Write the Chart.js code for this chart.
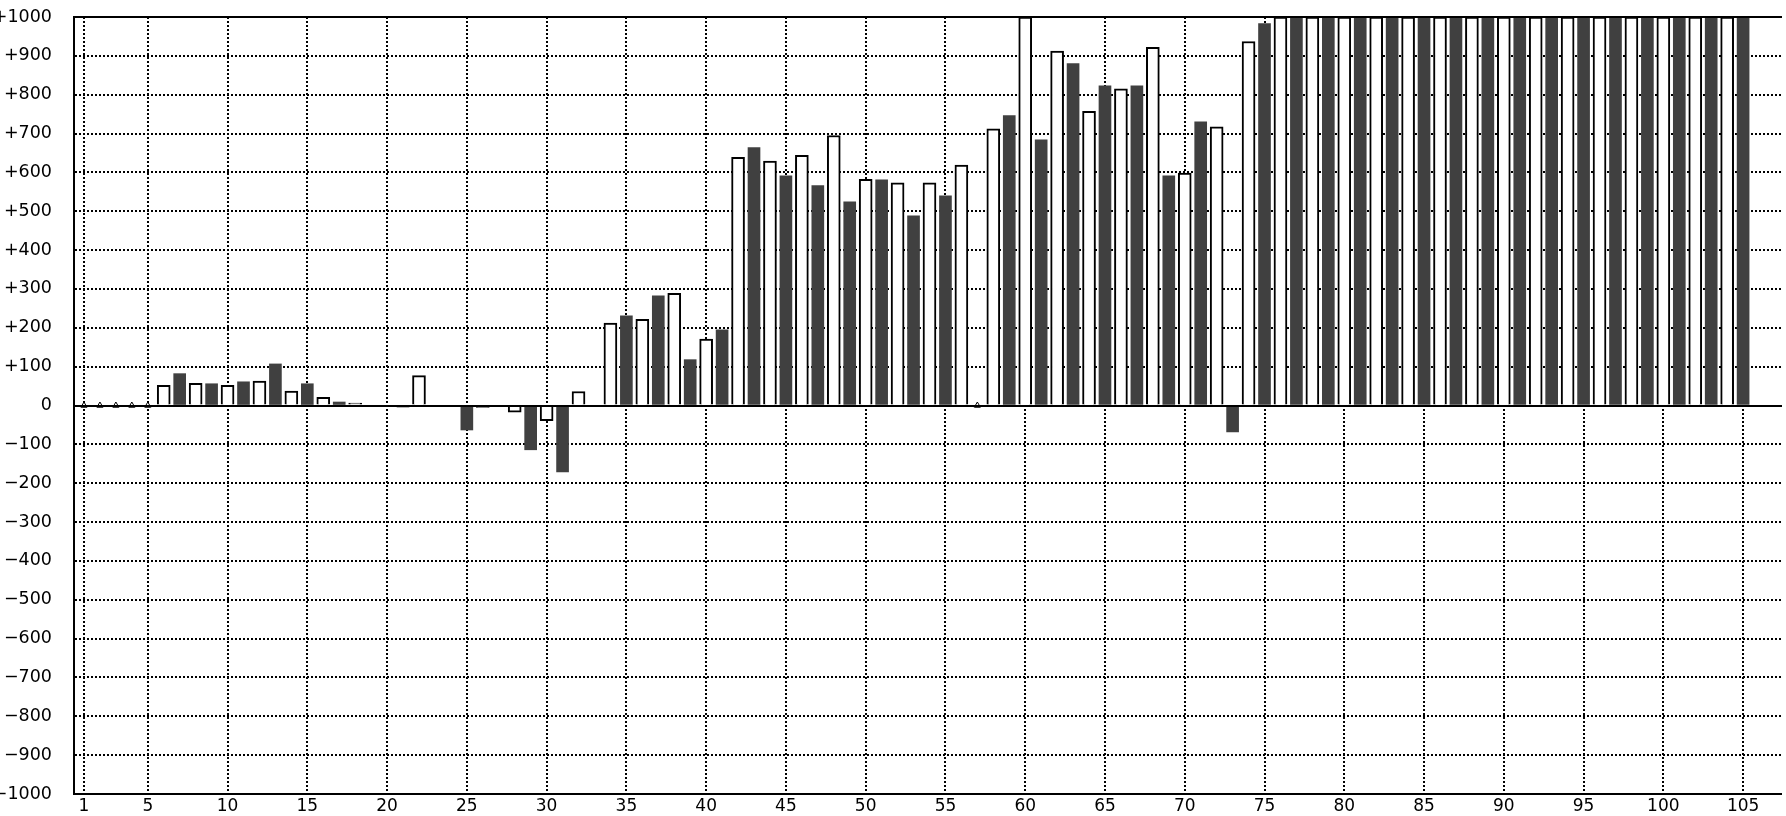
<!DOCTYPE html>
<html>
<head>
<meta charset="utf-8">
<script src="https://cdn.jsdelivr.net/npm/chart.js@4.4.1/dist/chart.umd.min.js"></script>
<style>
html,body{margin:0;padding:0;background:#fff;}
canvas{display:block;}
</style>
</head>
<body>
<canvas id="c" width="1786" height="816"></canvas>
<script>
const categories = [
  1,2,3,4,5,6,7,8,9,10,11,12,13,14,15,16,17,18,19,20,
  21,22,23,24,25,26,27,28,29,30,31,32,33,34,35,36,37,38,39,40,
  41,42,43,44,45,46,47,48,49,50,51,52,53,54,55,56,57,58,59,60,
  61,62,63,64,65,66,67,68,69,70,71,72,73,74,75,76,77,78,79,80,
  81,82,83,84,85,86,87,88,89,90,91,92,93,94,95,96,97,98,99,100,
  101,102,103,104,105
];

const values = [
  null,null,null,null,null,52,82,57,56,52,61,63,107,37,56,21,9,6,0,0,
  -4,77,0,0,-63,-5,0,-17,-114,-39,-171,36,0,212,231,222,282,289,118,171,
  195,639,664,629,591,644,566,695,524,582,581,573,488,573,540,619,null,712,746,1000,
  684,912,880,757,823,815,823,922,591,598,730,717,-68,937,983,1000,1000,1000,1000,1000,
  1000,1000,1000,1000,1000,1000,1000,1000,1000,1000,1000,1000,1000,1000,1000,1000,1000,1000,1000,1000,
  1000,1000,1000,1000,1000
];

const xTickLabels = [1,5,10,15,20,25,30,35,40,45,50,55,60,65,70,75,80,85,90,95,100,105];

const yTickValues = [1000,900,800,700,600,500,400,300,200,100,0,-100,-200,-300,-400,-500,-600,-700,-800,-900,-1000];
const yTickLabels = ['+1000','+900','+800','+700','+600','+500','+400','+300','+200','+100','0',
  '\u2212100','\u2212200','\u2212300','\u2212400','\u2212500','\u2212600','\u2212700','\u2212800','\u2212900','\u22121000'];

const lightData = [], darkData = [], missingData = [];
categories.forEach((c, i) => {
  const v = values[i];
  if (v === null) missingData.push({x: c, y: 0});
  else if (c % 2 === 0) lightData.push({x: c, y: v});
  else darkData.push({x: c, y: v});
});

Chart.defaults.font.family = "'DejaVu Sans', 'Verdana', sans-serif";
Chart.defaults.font.size = 17;
Chart.defaults.color = '#000';

const X_MIN = 0.375, X_MAX = 107.375;

const noPad = s => { s.paddingTop = 0; s.paddingBottom = 0; s.paddingLeft = 0; s.paddingRight = 0; };

new Chart(document.getElementById('c').getContext('2d'), {
  type: 'bar',
  data: {
    datasets: [
      {
        type: 'scatter',
        data: missingData,
        pointStyle: 'triangle',
        radius: 3.5,
        borderColor: '#000',
        backgroundColor: 'rgba(0,0,0,0)',
        borderWidth: 1,
        order: 0
      },
      {
        data: lightData,
        backgroundColor: '#ffffff',
        borderColor: '#000000',
        borderWidth: 2,
        barThickness: 13,
        grouped: false,
        order: 1
      },
      {
        data: darkData,
        backgroundColor: '#404040',
        borderWidth: 0,
        barThickness: 12,
        grouped: false,
        order: 1
      }
    ]
  },
  options: {
    responsive: false,
    animation: false,
    devicePixelRatio: 1,
    layout: {padding: {top: 17, left: 0, right: 0, bottom: 0}},
    plugins: {legend: {display: false}, tooltip: {enabled: false}},
    scales: {
      x: {
        type: 'linear',
        position: 'bottom',
        min: X_MIN, max: X_MAX,
        offset: false,
        afterBuildTicks: s => { s.ticks = xTickLabels.map(v => ({value: v})); },
        afterFit: s => { s.height = 22; noPad(s); },
        ticks: {padding: 2, autoSkip: false, maxRotation: 0, minRotation: 0, color: '#000',
                callback: v => String(v)},
        grid: {offset: false, drawTicks: false, color: '#000', lineWidth: 2},
        border: {display: true, color: '#000', width: 2, dash: [2, 2]}
      },
      xTop: {
        type: 'linear',
        position: 'top',
        min: X_MIN, max: X_MAX,
        offset: false,
        afterBuildTicks: s => { s.ticks = []; },
        afterFit: s => { s.height = 0; noPad(s); },
        ticks: {display: false},
        grid: {display: false, drawTicks: false, offset: false},
        border: {display: true, color: '#000', width: 2, z: 1}
      },
      xZero: {
        type: 'linear',
        position: {y: 0},
        min: X_MIN, max: X_MAX,
        offset: false,
        afterBuildTicks: s => { s.ticks = []; },
        afterFit: s => { s.height = 0; noPad(s); },
        ticks: {display: false},
        grid: {display: false, drawTicks: false, offset: false},
        border: {display: true, color: '#000', width: 2, z: 1}
      },
      y: {
        type: 'linear',
        position: 'left',
        min: -1000, max: 1000,
        afterBuildTicks: s => { s.ticks = yTickValues.map(v => ({value: v})); },
        afterFit: s => { s.width = 74; noPad(s); },
        ticks: {padding: 22, color: '#000', font: {size: 17.5},
                callback: v => yTickLabels[yTickValues.indexOf(v)]},
        grid: {
          drawTicks: false,
          lineWidth: 2,
          color: ctx => (ctx.tick && (ctx.tick.value === 1000 || ctx.tick.value === -1000)) ? 'rgba(0,0,0,0)' : '#000'
        },
        border: {
          display: true, color: '#000', width: 2,
          dash: ctx => (ctx.tick && ctx.tick.value === 0) ? [] : [2, 2]
        }
      }
    }
  }
});
</script>
</body>
</html>
